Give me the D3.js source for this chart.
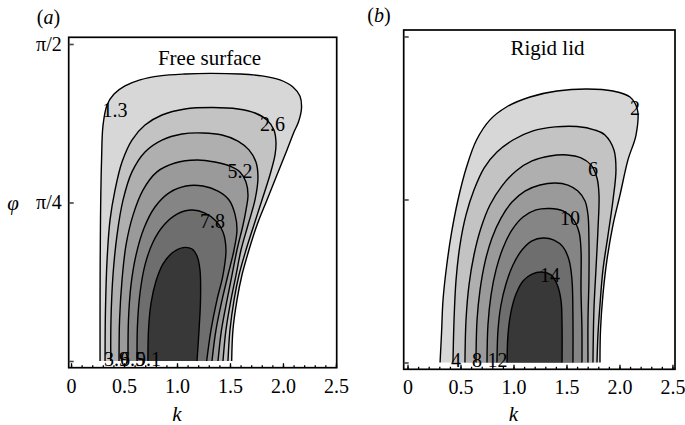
<!DOCTYPE html>
<html>
<head>
<meta charset="utf-8">
<script src="https://cdn.jsdelivr.net/npm/d3@7"></script>
<style>
body { margin: 0; background: #fff; }
</style>
</head>
<body>
<svg id="chart" width="685" height="425"></svg>
<script>
// ---- data ----
var kTicks = [0, 0.5, 1.0, 1.5, 2.0, 2.5];
var kTickLabels = ["0", "0.5", "1.0", "1.5", "2.0", "2.5"];
var phiTicks = [0, Math.PI / 4, Math.PI / 2];
var phiTickLabels = ["", "\u03c0/4", "\u03c0/2"];

// grey levels, lightest (lowest contour) to darkest
var shades = ["#d7d7d7", "#c3c3c3", "#afafaf", "#9a9a9a", "#858585", "#6e6e6e", "#383838"];

// (a) free surface, contour levels and their curves as [k, phi]
var freeLevels = [1.3, 2.6, 3.9, 5.2, 6.5, 7.8, 9.1];
var freeContours = [
  [[0.274,0],[0.274,0.302],[0.278,0.699],[0.288,0.996],[0.302,1.169],[0.340,1.269],[0.406,1.323],[0.509,1.363],[0.651,1.393],[0.840,1.413],[1.075,1.422],[1.311,1.425],[1.594,1.422],[1.802,1.413],[1.972,1.393],[2.094,1.358],[2.160,1.313],[2.175,1.254],[2.146,1.184],[2.104,1.135],[2.038,1.046],[1.943,0.922],[1.849,0.798],[1.755,0.674],[1.679,0.550],[1.613,0.426],[1.566,0.302],[1.528,0.154],[1.516,0]],
  [[0.321,0],[0.325,0.253],[0.340,0.500],[0.368,0.699],[0.415,0.847],[0.481,0.986],[0.575,1.095],[0.698,1.169],[0.858,1.219],[1.075,1.249],[1.340,1.256],[1.575,1.249],[1.736,1.229],[1.849,1.194],[1.915,1.145],[1.934,1.085],[1.925,1.021],[1.877,0.922],[1.802,0.798],[1.726,0.674],[1.651,0.550],[1.585,0.426],[1.538,0.302],[1.500,0.154],[1.481,0]],
  [[0.375,0],[0.377,0.203],[0.396,0.426],[0.434,0.624],[0.491,0.798],[0.575,0.937],[0.698,1.036],[0.858,1.095],[1.047,1.125],[1.245,1.130],[1.425,1.120],[1.575,1.090],[1.679,1.046],[1.745,0.986],[1.764,0.907],[1.736,0.798],[1.670,0.674],[1.604,0.550],[1.557,0.426],[1.509,0.302],[1.462,0.154],[1.434,0]],
  [[0.453,0],[0.458,0.203],[0.481,0.401],[0.519,0.575],[0.585,0.723],[0.679,0.847],[0.811,0.937],[0.981,0.981],[1.189,0.996],[1.358,0.986],[1.500,0.966],[1.594,0.937],[1.651,0.887],[1.670,0.823],[1.651,0.748],[1.623,0.674],[1.566,0.550],[1.519,0.426],[1.472,0.302],[1.420,0.154],[1.387,0]],
  [[0.538,0],[0.542,0.203],[0.566,0.377],[0.613,0.525],[0.689,0.659],[0.792,0.763],[0.925,0.833],[1.085,0.867],[1.245,0.867],[1.387,0.842],[1.491,0.798],[1.547,0.728],[1.566,0.649],[1.538,0.550],[1.481,0.426],[1.425,0.302],[1.368,0.154],[1.330,0]],
  [[0.623,0],[0.627,0.178],[0.651,0.337],[0.698,0.476],[0.774,0.590],[0.877,0.674],[1.000,0.728],[1.142,0.748],[1.264,0.733],[1.368,0.694],[1.434,0.639],[1.462,0.550],[1.434,0.426],[1.377,0.302],[1.321,0.154],[1.280,0]],
  [[0.726,0],[0.731,0.154],[0.755,0.287],[0.802,0.396],[0.868,0.481],[0.953,0.535],[1.057,0.562],[1.142,0.555],[1.189,0.520],[1.217,0.451],[1.222,0.302],[1.208,0.154],[1.189,0]]
];
// label text, k, phi
var freeLabels = [
  ["1.3", 0.415, 1.244], ["2.6", 1.901, 1.174], ["5.2", 1.594, 0.942], ["7.8", 1.335, 0.694],
  ["3.9", 0.429, 0.01], ["6.5", 0.580, 0.01], ["9.1", 0.731, 0.01]
];

// (b) rigid lid
var rigidLevels = [2, 4, 6, 8, 10, 12, 14];
var rigidContours = [
  [[0.307,0],[0.321,0.142],[0.335,0.301],[0.368,0.460],[0.415,0.624],[0.476,0.783],[0.557,0.942],[0.651,1.072],[0.778,1.169],[0.934,1.231],[1.156,1.279],[1.410,1.308],[1.693,1.318],[1.939,1.308],[2.099,1.279],[2.170,1.217],[2.156,1.096],[2.080,0.976],[2.005,0.807],[1.939,0.663],[1.882,0.494],[1.844,0.325],[1.821,0.157],[1.816,0]],
  [[0.429,0],[0.439,0.205],[0.458,0.398],[0.495,0.566],[0.552,0.711],[0.627,0.831],[0.722,0.937],[0.844,1.014],[0.995,1.072],[1.184,1.116],[1.392,1.135],[1.599,1.137],[1.769,1.120],[1.863,1.096],[1.948,1.024],[1.967,0.928],[1.939,0.783],[1.892,0.614],[1.844,0.446],[1.816,0.277],[1.797,0.133],[1.788,0]],
  [[0.542,0],[0.552,0.205],[0.580,0.373],[0.627,0.518],[0.693,0.648],[0.778,0.759],[0.892,0.851],[1.024,0.923],[1.175,0.971],[1.344,0.995],[1.505,1.000],[1.637,0.986],[1.731,0.952],[1.788,0.889],[1.807,0.807],[1.797,0.639],[1.778,0.446],[1.759,0.253],[1.750,0]],
  [[0.646,0],[0.656,0.205],[0.684,0.349],[0.731,0.484],[0.797,0.600],[0.882,0.696],[0.986,0.773],[1.108,0.826],[1.250,0.855],[1.392,0.865],[1.514,0.855],[1.608,0.826],[1.675,0.778],[1.703,0.711],[1.712,0.590],[1.712,0.398],[1.703,0.205],[1.703,0]],
  [[0.750,0],[0.759,0.181],[0.788,0.325],[0.835,0.446],[0.901,0.552],[0.986,0.639],[1.090,0.701],[1.212,0.735],[1.344,0.742],[1.467,0.730],[1.561,0.692],[1.618,0.629],[1.637,0.542],[1.637,0.349],[1.646,0.157],[1.646,0]],
  [[0.844,0],[0.854,0.157],[0.882,0.277],[0.929,0.378],[0.995,0.470],[1.080,0.542],[1.175,0.586],[1.278,0.600],[1.382,0.590],[1.467,0.557],[1.524,0.494],[1.552,0.398],[1.561,0.205],[1.561,0]],
  [[0.939,0],[0.948,0.133],[0.976,0.243],[1.024,0.330],[1.090,0.393],[1.175,0.426],[1.269,0.436],[1.354,0.422],[1.410,0.378],[1.448,0.301],[1.458,0.181],[1.458,0]]
];
var rigidLabels = [
  ["2", 2.146, 1.227], ["6", 1.750, 0.933], ["10", 1.533, 0.696], ["14", 1.344, 0.422],
  ["4", 0.458, 0.01], ["8", 0.656, 0.01], ["12", 0.849, 0.01]
];

var SERIF = "'Liberation Serif', 'Times New Roman', Times, 'DejaVu Serif', serif";
var svg = d3.select("#chart");

function drawPanel(p) {
  var x = d3.scaleLinear().domain(p.kDomain).range([p.left, p.right]);
  var y = d3.scaleLinear().domain(p.phiDomain).range([p.bottom, p.top]);
  var g = svg.append("g");

  var line = d3.line()
    .x(function(d) { return x(d[0]); })
    .y(function(d) { return y(d[1]); })
    .curve(d3.curveCatmullRom.alpha(0.5));

  // shaded bands, outermost first
  p.contours.forEach(function(c, i) {
    g.append("path").attr("d", line(c) + "Z").attr("fill", shades[i]).attr("stroke", "none");
  });
  // contour lines
  p.contours.forEach(function(c) {
    g.append("path").attr("d", line(c))
      .attr("fill", "none").attr("stroke", "#000").attr("stroke-width", 1.4);
  });

  // contour labels
  g.selectAll(".clab").data(p.labels).enter().append("text")
    .attr("class", "clab")
    .attr("x", function(d) { return x(d[1]); })
    .attr("y", function(d) { return y(d[2]); })
    .attr("text-anchor", "middle")
    .attr("dy", "0.35em")
    .style("font-size", "20px")
    .text(function(d) { return d[0]; });

  // frame
  g.append("rect")
    .attr("x", p.left).attr("y", p.top)
    .attr("width", p.right - p.left).attr("height", p.bottom - p.top)
    .attr("fill", "none").attr("stroke", "#000").attr("stroke-width", 1.7);

  // bottom ticks (inward), minor then major with labels
  var minor = g.append("g").attr("transform", "translate(0," + p.bottom + ")")
    .call(d3.axisBottom(x).tickValues(d3.range(0, 2.51, 0.1)).tickSize(-2.5).tickFormat(""));
  minor.select(".domain").remove();
  var major = g.append("g").attr("transform", "translate(0," + p.bottom + ")")
    .call(d3.axisBottom(x).tickValues(kTicks).tickSize(-4.5).tickPadding(11)
      .tickFormat(function(d, i) { return kTickLabels[i]; }));
  major.select(".domain").remove();
  major.selectAll("text").style("font-size", "20px").attr("fill", "#000");
  g.selectAll(".tick line").attr("stroke", "#000").attr("stroke-width", 1.3);

  // left ticks
  var left = g.append("g").attr("transform", "translate(" + p.left + ",0)")
    .call(d3.axisLeft(y).tickValues(phiTicks).tickSize(-5).tickPadding(7)
      .tickFormat(function(d, i) { return p.showPhi ? phiTickLabels[i] : ""; }));
  left.select(".domain").remove();
  left.selectAll("line").attr("stroke", "#444").attr("stroke-width", 1.6);
  left.selectAll("text").style("font-size", "20px").attr("fill", "#000");

  // titles
  g.append("text").attr("x", p.titleX).attr("y", p.titleY)
    .attr("text-anchor", "middle").style("font-size", "21px").text(p.title);

  var pl = g.append("text").attr("x", p.tagX).attr("y", p.tagY)
    .attr("text-anchor", "middle").style("font-size", "20px");
  pl.append("tspan").text("(");
  pl.append("tspan").style("font-style", "italic").text(p.tag);
  pl.append("tspan").text(")");

  g.append("text").attr("x", x(1.0)).attr("y", 421)
    .attr("text-anchor", "middle").style("font-size", "21px").style("font-style", "italic").text("k");

  if (p.showPhi) {
    g.append("text").attr("x", 13).attr("y", y(Math.PI / 4)).attr("dy", "0.35em")
      .attr("text-anchor", "middle").style("font-size", "21px").style("font-style", "italic").text("\u03c6");
  }
}

drawPanel({
  left: 68.7, right: 336.7, top: 37.3, bottom: 367.7,
  kDomain: [-0.022, 2.507], phiDomain: [-0.0332, 1.604],
  contours: freeContours, labels: freeLabels, showPhi: true,
  title: "Free surface", titleX: 209.5, titleY: 65,
  tag: "a", tagX: 48.5, tagY: 24
});

drawPanel({
  left: 403.7, right: 675, top: 30, bottom: 369.3,
  kDomain: [-0.036, 2.524], phiDomain: [-0.0328, 1.602],
  contours: rigidContours, labels: rigidLabels, showPhi: false,
  title: "Rigid lid", titleX: 547.5, titleY: 55,
  tag: "b", tagX: 379, tagY: 22
});

// serif everywhere (axis groups set their own sans-serif attribute)
svg.selectAll("text").style("font-family", SERIF);
svg.selectAll("g").attr("font-family", null);
</script>
</body>
</html>
